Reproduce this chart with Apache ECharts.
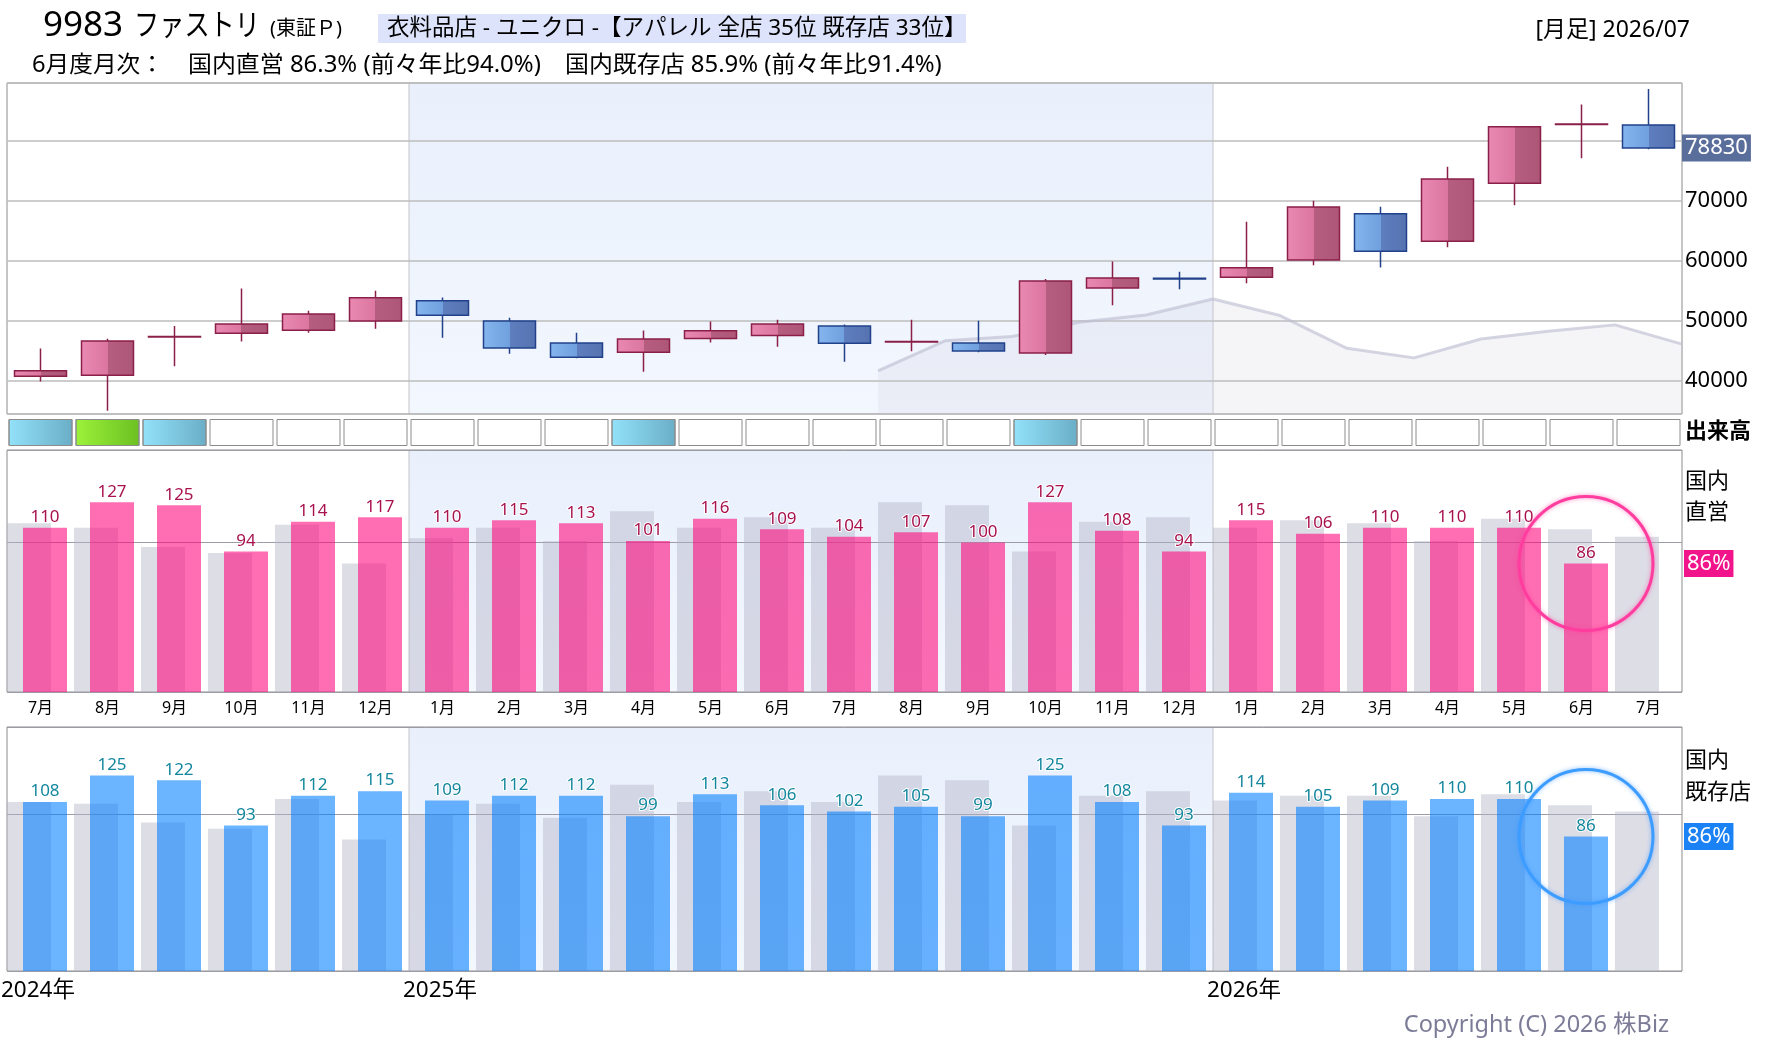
<!DOCTYPE html>
<html>
<head>
<meta charset="utf-8">
<script src="https://cdn.jsdelivr.net/npm/echarts@6/dist/echarts.min.js"></script>
<style>
  html, body { margin: 0; padding: 0; background: #fff; }
  #main { width: 1780px; height: 1054px; }
</style>
</head>
<body>
<div id="main"></div>
<script>
// 月足カテゴリ
const months = ['2024/7', '2024/8', '2024/9', '2024/10', '2024/11', '2024/12',
  '2025/1', '2025/2', '2025/3', '2025/4', '2025/5', '2025/6', '2025/7', '2025/8', '2025/9', '2025/10', '2025/11', '2025/12',
  '2026/1', '2026/2', '2026/3', '2026/4', '2026/5', '2026/6', '2026/7'];
const monthLabels = ['7月', '8月', '9月', '10月', '11月', '12月',
  '1月', '2月', '3月', '4月', '5月', '6月', '7月', '8月', '9月', '10月', '11月', '12月',
  '1月', '2月', '3月', '4月', '5月', '6月', '7月'];
const yearLabels = ['2024年', '2025年', '2026年'];
const yearStarts = [0, 6, 18];

// 株価 [始値, 終値, 安値, 高値]
const candles = [
  [40800, 41700, 39900, 45400], [40950, 46650, 35050, 47050], [47350, 47400, 42450, 49150],
  [47950, 49500, 46600, 55400], [48450, 51150, 48050, 51700], [50000, 53850, 48700, 55050],
  [53350, 50950, 47200, 53900], [50000, 45500, 44550, 50550], [46350, 43950, 43800, 48050],
  [44800, 47000, 41550, 48400], [47100, 48350, 46400, 49900], [47600, 49500, 45700, 50200],
  [49150, 46300, 43200, 49400], [46500, 46600, 44950, 50200], [46350, 45000, 44800, 50050],
  [44650, 56650, 44350, 57000], [55500, 57150, 52600, 59900], [57100, 57000, 55300, 58200],
  [57300, 58850, 56300, 66550], [60150, 69000, 59300, 70050], [67850, 61600, 58900, 69050],
  [63300, 73650, 62300, 75700], [72950, 82350, 69300, 82400], [82750, 82800, 77100, 86050],
  [82650, 78830, 78600, 88650]
];
// 背景のグレー線（2025/8 の左端から、月の境目ごと）
const sectorStart = 13;
const sectorLine = [41700, 46700, 47400, 49800, 51000, 53650, 50900, 45450, 43850, 47000, 48300, 49350, 46150];

// 出来高ランク 0:通常 1:多い 2:非常に多い
const volumeLevel = [1, 2, 1, 0, 0, 0, 0, 0, 0, 1, 0, 0, 0, 0, 0, 1, 0, 0, 0, 0, 0, 0, 0, 0, 0];

// 月次 前年比(%)
const directSales = [110, 127, 125, 94, 114, 117, 110, 115, 113, 101, 116, 109, 104, 107, 100, 127, 108, 94, 115, 106, 110, 110, 110, 86, null];
const directPrev = [113, 110, 97, 93, 112, 86, 103, 110, 101, 121, 110, 117, 110, 127, 125, 94, 114, 117, 110, 115, 113, 101, 116, 109, 104];
const existingSales = [108, 125, 122, 93, 112, 115, 109, 112, 112, 99, 113, 106, 102, 105, 99, 125, 108, 93, 114, 105, 109, 110, 110, 86, null];
const existingPrev = [108, 107, 95, 91, 110, 84, 100, 107, 98, 119, 108, 115, 108, 125, 122, 93, 112, 115, 109, 112, 112, 99, 113, 106, 102];

const FONT = "'Noto Sans', 'Noto Sans CJK JP', sans-serif";
const GL = 7, GR = 98;
const panels = [{ top: 83, height: 331 }, { top: 450, height: 242 }, { top: 727, height: 244 }];

function hGrad(stops) {
  return new echarts.graphic.LinearGradient(0, 0, 1, 0, stops.map(c => ({ offset: c[0], color: c[1] })));
}
const upFill = hGrad([[0, '#e98ab2'], [0.5, '#db76a0'], [0.5, '#b65e80'], [1, '#ad5676']]);
const downFill = hGrad([[0, '#86b6ee'], [0.5, '#70a0de'], [0.5, '#5e7ebe'], [1, '#5672b0']]);
const stripColors = [
  '#ffffff',
  hGrad([[0, '#92e2fa'], [1, '#6aaec6']]),
  hGrad([[0, '#9cf23a'], [1, '#6cc022']])
];

const chart = echarts.init(document.getElementById('main'));

function catAxis(grid, showLabel) {
  return {
    type: 'category', gridIndex: grid, data: months, boundaryGap: true,
    axisLine: { show: false }, axisTick: { show: false }, splitLine: { show: false },
    axisLabel: {
      show: showLabel, interval: 0, margin: 8, color: '#000', fontSize: 16, fontFamily: FONT,
      formatter: (v, i) => monthLabels[i]
    }
  };
}
function pctAxis(grid, max) {
  return {
    type: 'value', gridIndex: grid, min: 0, max: max, interval: 100,
    axisLine: { show: false }, axisTick: { show: false }, axisLabel: { show: false },
    splitLine: { lineStyle: { color: '#9c9ca4', width: 1 } }
  };
}
function barLabel(color) {
  return {
    show: true, position: 'top', distance: 2, color: color, fontSize: 17, fontFamily: FONT,
    textBorderColor: '#fff', textBorderWidth: 2
  };
}

let option = {
  animation: false,
  backgroundColor: '#fff',
  grid: [
    { left: GL, right: GR, top: panels[0].top, height: panels[0].height, show: true, borderColor: '#8c8c8c', borderWidth: 1, backgroundColor: 'transparent' },
    { left: GL, right: GR, top: 419, height: 27 },
    { left: GL, right: GR, top: panels[1].top, height: panels[1].height, show: true, borderColor: '#8c8c8c', borderWidth: 1, backgroundColor: 'transparent' },
    { left: GL, right: GR, top: panels[2].top, height: panels[2].height, show: true, borderColor: '#8c8c8c', borderWidth: 1, backgroundColor: 'transparent' }
  ],
  xAxis: [
    catAxis(0, false),
    { type: 'value', gridIndex: 0, min: -0.5, max: months.length - 0.5, show: false },
    catAxis(1, false),
    catAxis(2, true),
    catAxis(3, false)
  ],
  yAxis: [
    {
      type: 'value', gridIndex: 0, position: 'right', min: 34500, max: 89650,
      minInterval: 10000, maxInterval: 10000,
      axisLine: { show: false }, axisTick: { show: false },
      axisLabel: {
        margin: 3, color: '#000', fontSize: 22, fontFamily: FONT,
        formatter: v => (v % 10000 === 0 && v >= 40000 && v < 80000) ? String(v) : ''
      },
      splitLine: { lineStyle: { color: '#bdbdbd', width: 1.5 } }
    },
    { type: 'value', gridIndex: 1, min: 0, max: 1, show: false },
    pctAxis(2, 162),
    pctAxis(3, 156)
  ],
  series: [
    {
      type: 'candlestick', xAxisIndex: 0, yAxisIndex: 0, data: candles, barWidth: 52,
      itemStyle: {
        color: upFill, color0: downFill,
        borderColor: '#8a1f48', borderColor0: '#21418a', borderWidth: 1.5
      }
    },
    {
      type: 'line', xAxisIndex: 1, yAxisIndex: 0, symbol: 'none', z: 1,
      data: sectorLine.map((v, i) => [sectorStart - 0.5 + i, v]),
      lineStyle: { color: 'rgba(190,190,210,0.65)', width: 3 },
      areaStyle: { color: 'rgba(200,200,218,0.25)' }
    },
    {
      type: 'bar', xAxisIndex: 2, yAxisIndex: 1, barWidth: 64,
      data: volumeLevel.map(l => ({ value: 1, itemStyle: { color: stripColors[l] } })),
      itemStyle: { borderColor: '#8c8c8c', borderWidth: 1 }
    },
    {
      type: 'bar', xAxisIndex: 3, yAxisIndex: 2, data: directPrev, barWidth: 44, barGap: '-63.6%',
      itemStyle: { color: 'rgba(180,180,200,0.45)' }
    },
    {
      type: 'bar', xAxisIndex: 3, yAxisIndex: 2, data: directSales, barWidth: 44, barGap: '-63.6%',
      itemStyle: { color: 'rgba(255,0,119,0.57)' }, label: barLabel('#a8124e')
    },
    { type: 'bar', xAxisIndex: 3, yAxisIndex: 2, data: [], barWidth: 35, barGap: '-63.6%', silent: true },
    {
      type: 'bar', xAxisIndex: 4, yAxisIndex: 3, data: existingPrev, barWidth: 44, barGap: '-63.6%',
      itemStyle: { color: 'rgba(180,180,200,0.45)' }
    },
    {
      type: 'bar', xAxisIndex: 4, yAxisIndex: 3, data: existingSales, barWidth: 44, barGap: '-63.6%',
      itemStyle: { color: 'rgba(0,126,255,0.58)' }, label: barLabel('#13879e')
    },
    { type: 'bar', xAxisIndex: 4, yAxisIndex: 3, data: [], barWidth: 35, barGap: '-63.6%', silent: true }
  ]
};
chart.setOption(option);

// 背景・注記
const px = v => chart.convertToPixel({ xAxisIndex: 1 }, v);
const x2025 = px(5.5), x2026 = px(17.5);
let graphics = [];
panels.forEach(p => {
  graphics.push({
    type: 'rect', z: -2, silent: true,
    shape: { x: x2025, y: p.top + 0.5, width: x2026 - x2025, height: p.height - 1 },
    style: { fill: new echarts.graphic.LinearGradient(0, 0, 0, 1, [{ offset: 0, color: '#e9f0fc' }, { offset: 1, color: '#f3f7fe' }]) }
  });
  [x2025, x2026].forEach(x => graphics.push({
    type: 'line', z: -1, silent: true,
    shape: { x1: x, y1: p.top, x2: x, y2: p.top + p.height },
    style: { stroke: '#c4c4c8', lineWidth: 1 }
  }));
});

function txt(x, y, text, size, opts, scaleX) {
  return {
    type: 'text', z: 100, x: x, y: y, silent: true, scaleX: scaleX || 1,
    style: Object.assign({ text: text, font: size + 'px ' + FONT, fill: '#000', align: 'left', verticalAlign: 'middle' }, opts || {})
  };
}
function boxTxt(x, y, text, bg) {
  return {
    type: 'text', z: 100, x: x, y: y, silent: true,
    style: {
      text: text, font: '22px ' + FONT, fill: '#fff', align: 'left', verticalAlign: 'middle',
      backgroundColor: bg, padding: [3, 3, 2, 3]
    }
  };
}

// タイトル
graphics.push(txt(43, 26, '9983', 35));
graphics.push(txt(134, 26, 'ファストリ', 30, null, 0.84));
graphics.push(txt(270, 29, '(東証Ｐ)', 20));
graphics.push({ type: 'rect', z: 99, silent: true, shape: { x: 378, y: 14, width: 588, height: 29 }, style: { fill: '#dce3fb' } });
graphics.push(txt(387, 29, '衣料品店 - ユニクロ -【アパレル 全店 35位 既存店 33位】', 22.5));
graphics.push(txt(1690, 30, '[月足] 2026/07', 23, { align: 'right' }));
graphics.push(txt(32, 65, '6月度月次：', 23, null, 1.03));
graphics.push(txt(188, 65, '国内直営 86.3% (前々年比94.0%)', 23, null, 1.04));
graphics.push(txt(565, 65, '国内既存店 85.9% (前々年比91.4%)', 23, null, 1.04));

// 右側ラベル
const last = candles.length - 1;
const yClose = chart.convertToPixel({ yAxisIndex: 0 }, candles[last][1]);
graphics.push(boxTxt(1682, yClose, String(candles[last][1]), '#5a6e9b'));
graphics.push(txt(1685, 432, '出来高', 22, { font: 'bold 22px ' + FONT }));
graphics.push(txt(1685, 482, '国内', 22));
graphics.push(txt(1685, 513, '直営', 22));
graphics.push(txt(1685, 761, '国内', 22));
graphics.push(txt(1685, 793, '既存店', 22));

const latest = 23;
const cx = chart.convertToPixel({ xAxisIndex: 3 }, months[latest]) + 4.5;
const yDirect = chart.convertToPixel({ yAxisIndex: 2 }, directSales[latest]);
const yExisting = chart.convertToPixel({ yAxisIndex: 3 }, existingSales[latest]);
graphics.push(boxTxt(1684, yDirect, directSales[latest] + '%', '#f2148b'));
graphics.push(boxTxt(1684, yExisting, existingSales[latest] + '%', '#1a82f5'));
graphics.push({
  type: 'circle', z: 90, silent: true, shape: { cx: cx, cy: yDirect, r: 67 },
  style: { fill: 'none', stroke: '#ff3d9e', lineWidth: 3, shadowBlur: 4, shadowColor: 'rgba(255,60,160,0.6)' }
});
graphics.push({
  type: 'circle', z: 90, silent: true, shape: { cx: cx, cy: yExisting, r: 67 },
  style: { fill: 'none', stroke: '#3d9cff', lineWidth: 3, shadowBlur: 4, shadowColor: 'rgba(60,150,255,0.6)' }
});

// 年ラベル
yearStarts.forEach((s, i) => {
  graphics.push(txt(px(s - 0.5) - 6, 991, yearLabels[i], 22.5));
});
graphics.push(txt(1669, 1025, 'Copyright (C) 2026 株Biz', 23.5, { fill: '#7c7c98', align: 'right' }));

chart.setOption({ graphic: graphics });
</script>
</body>
</html>
